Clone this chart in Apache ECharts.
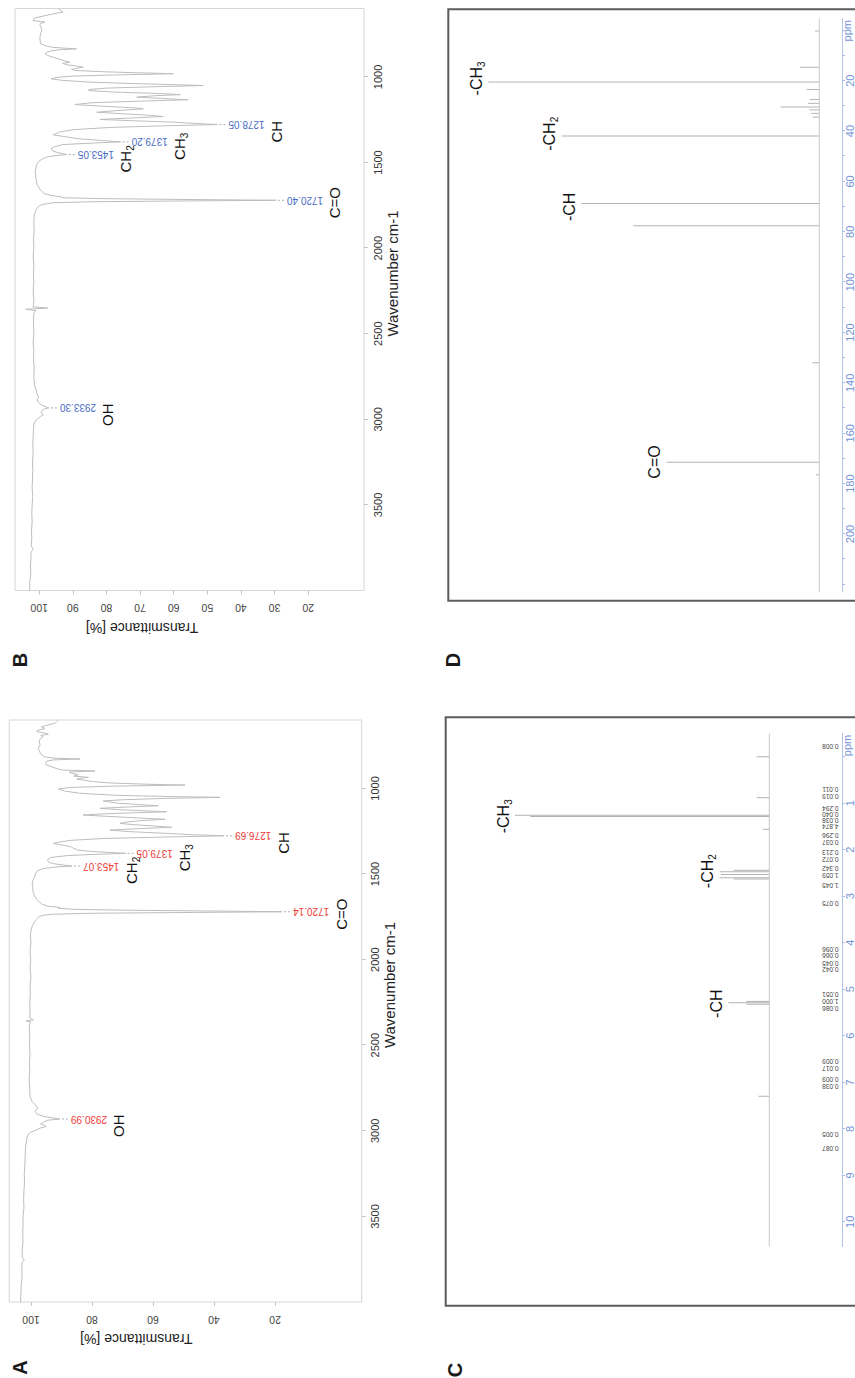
<!DOCTYPE html>
<html><head><meta charset="utf-8">
<script src="https://cdn.jsdelivr.net/npm/echarts@6/dist/echarts.min.js"></script>
<style>
html,body{margin:0;padding:0;background:#fff;overflow:hidden;width:855px;height:1378px;}
#wrap{position:absolute;left:0;top:0;width:1378px;height:855px;transform-origin:0 0;transform:translate(0px,1378px) rotate(-90deg);}
#chart{width:1378px;height:855px;}
</style></head><body>
<div id="wrap"><div id="chart"></div></div>
<script>
// ---------- DATA ----------
const irWavenumberTicks = [1000, 1500, 2000, 2500, 3000, 3500];
const irTransTicksA = [20, 40, 60, 80, 100];
const irTransTicksB = [20, 30, 40, 50, 60, 70, 80, 90, 100];

const irSpectrumA = [[600,91.0],[610,91.6],[619,92.1],[630,94.6],[640,96.5],[650,95.4],[660,97.8],[668,98.1],[676,95.5],[683,94.3],[690,96.8],[697,96.0],[710,97.0],[725,97.3],[745,97.0],[765,97.6],[785,97.2],[804,96.5],[815,95.6],[823,92.5],[828,83.9],[833,92.5],[840,94.8],[852,95.2],[863,94.9],[875,93.0],[884,91.5],[892,89.9],[898,79.0],[904,87.5],[911,86.7],[920,84.5],[928,86.0],[935,81.2],[941,84.0],[946,85.0],[953,82.0],[960,79.5],[968,74.0],[975,62.0],[980,49.5],[986,72.0],[994,87.0],[1003,91.0],[1015,89.0],[1028,84.0],[1040,72.0],[1047,55.0],[1052,38.0],[1058,56.0],[1066,70.0],[1073,76.3],[1085,72.0],[1095,64.0],[1101,58.3],[1108,68.0],[1116,77.4],[1124,71.0],[1131,62.0],[1136,55.5],[1142,66.0],[1149,77.0],[1155,82.9],[1162,76.0],[1172,65.0],[1180,56.1],[1188,64.0],[1197,69.0],[1204,70.8],[1212,66.0],[1220,59.0],[1227,53.9],[1234,64.0],[1243,74.1],[1252,68.0],[1262,56.0],[1270,47.0],[1276.69,36.7],[1283,55.0],[1292,76.0],[1303,87.0],[1314,91.0],[1321,92.7],[1330,90.0],[1340,87.0],[1350,86.0],[1360,84.5],[1368,80.0],[1374,74.0],[1379.05,69.0],[1385,79.0],[1392,88.0],[1403,93.5],[1415,94.5],[1428,94.4],[1438,93.0],[1446,90.0],[1453.07,86.5],[1459,92.0],[1468,96.0],[1480,97.8],[1495,98.5],[1513,98.7],[1530,99.2],[1552,99.6],[1580,99.4],[1603,99.3],[1625,98.9],[1645,98.2],[1660,97.5],[1675,96.5],[1688,94.5],[1695,90.5],[1700,91.0],[1706,86.0],[1711,70.0],[1716,40.0],[1720.14,17.7],[1724,45.0],[1729,80.0],[1735,93.0],[1742,96.5],[1752,97.6],[1766,98.2],[1785,99.0],[1800,99.5],[1821,99.9],[1850,100.2],[1900,100.0],[1950,100.3],[2000,100.1],[2050,100.3],[2100,100.0],[2150,100.3],[2200,100.2],[2250,100.4],[2300,100.3],[2340,100.4],[2352,99.2],[2358,101.6],[2364,100.1],[2380,100.5],[2450,100.4],[2500,100.5],[2550,100.3],[2600,100.5],[2650,100.4],[2700,100.6],[2750,100.4],[2800,100.3],[2830,99.6],[2855,98.2],[2870,97.8],[2885,98.6],[2900,98.2],[2915,96.0],[2924,93.0],[2930.99,90.5],[2938,94.5],[2950,96.0],[2960,96.8],[2968,95.6],[2975,95.0],[2983,96.8],[2995,98.2],[3010,100.3],[3030,101.2],[3060,101.5],[3100,101.8],[3150,101.9],[3200,102.0],[3250,102.2],[3300,102.1],[3350,102.3],[3400,102.4],[3450,102.3],[3500,102.6],[3550,102.6],[3600,102.7],[3650,102.6],[3700,102.9],[3740,102.8],[3755,102.2],[3770,102.9],[3800,103.0],[3850,102.9],[3900,103.2],[3950,103.3],[4000,103.4]];

const irSpectrumB = [[600,94.3],[612,93.5],[621,92.9],[632,96.0],[645,99.0],[656,101.5],[670,101.8],[676,99.5],[680,98.3],[686,99.6],[695,99.8],[710,99.4],[729,99.3],[750,99.6],[768,99.8],[790,99.7],[806,99.6],[818,98.0],[826,96.3],[831,93.0],[836,88.9],[841,94.0],[848,96.5],[856,97.8],[865,98.3],[878,97.0],[888,95.3],[896,94.0],[905,92.5],[914,90.9],[920,93.0],[928,92.0],[936,89.0],[943,86.9],[950,89.0],[956,90.4],[962,89.5],[970,80.0],[976,70.0],[981,60.1],[987,75.0],[995,90.0],[1003,95.0],[1011,96.5],[1020,93.0],[1030,85.0],[1040,70.0],[1046,58.0],[1050,51.2],[1056,64.0],[1065,80.0],[1073,85.0],[1079,85.4],[1088,78.0],[1097,64.0],[1103,58.0],[1110,66.0],[1118,71.0],[1125,64.0],[1133,55.7],[1140,68.0],[1150,84.0],[1161,89.4],[1170,82.0],[1180,72.0],[1186,69.0],[1195,76.0],[1206,82.9],[1215,75.0],[1224,67.0],[1231,63.1],[1240,73.0],[1248,81.9],[1256,72.0],[1264,60.0],[1270,55.1],[1278.05,47.0],[1285,62.0],[1295,79.0],[1308,90.0],[1322,94.0],[1338,95.8],[1350,92.0],[1362,88.0],[1370,82.0],[1379.2,75.8],[1386,84.0],[1395,93.0],[1408,95.5],[1420,96.5],[1432,96.0],[1442,94.5],[1448,93.0],[1453.05,91.8],[1459,95.0],[1468,97.8],[1480,99.2],[1495,100.2],[1514,100.8],[1553,101.2],[1590,101.0],[1630,100.6],[1655,99.8],[1670,99.2],[1681,98.5],[1692,96.5],[1700,93.5],[1706,92.9],[1711,80.0],[1716,55.0],[1720.40,29.6],[1724,55.0],[1729,85.0],[1735,96.0],[1745,99.2],[1760,100.4],[1771,100.8],[1790,101.2],[1809,101.5],[1850,101.6],[1900,101.5],[1950,101.7],[2000,101.6],[2050,101.8],[2100,101.6],[2150,101.7],[2200,101.6],[2250,101.8],[2300,101.6],[2335,101.7],[2343,101.9],[2350,97.5],[2357,104.0],[2365,101.0],[2380,101.6],[2450,101.7],[2500,101.6],[2550,101.8],[2600,101.6],[2650,101.7],[2700,101.5],[2750,101.6],[2800,101.4],[2830,100.9],[2850,100.7],[2870,100.2],[2885,100.6],[2900,100.3],[2915,99.4],[2925,98.3],[2933.30,97.1],[2940,98.6],[2950,99.2],[2960,99.5],[2968,99.0],[2975,98.8],[2983,99.6],[2995,100.3],[3010,101.2],[3030,101.6],[3060,101.7],[3100,101.8],[3150,101.9],[3200,101.8],[3250,102.0],[3300,101.9],[3350,102.0],[3400,102.1],[3450,101.9],[3500,102.1],[3550,102.2],[3600,102.1],[3650,102.3],[3700,102.2],[3740,102.4],[3760,101.7],[3775,102.5],[3800,102.4],[3850,102.6],[3900,102.5],[3950,102.8],[4000,102.8]];

// peak wavenumbers and their assignments
const irPeaksA = [[2930.99, 'OH'], [1720.14, 'C=O'], [1453.07, 'CH2'], [1379.05, 'CH3'], [1276.69, 'CH']];
const irPeaksB = [[2933.30, 'OH'], [1720.40, 'C=O'], [1453.05, 'CH2'], [1379.20, 'CH3'], [1278.05, 'CH']];

// 1H NMR (ppm, relative intensity)
const hnmrRange = [-0.5, 10.53];
const hnmrTicks = [0, 1, 2, 3, 4, 5, 6, 7, 8, 9, 10];
const hnmrTickLabels = [1, 2, 3, 4, 5, 6, 7, 8, 9, 10];
const hnmrPeaks = [[0.00,5.0],[0.88,5.0],[1.26,100],[1.285,94],[1.56,2.5],[2.44,14],[2.47,19.5],[2.53,19],[2.60,19.5],[2.63,14],[5.26,9],[5.29,16.1],[5.32,9],[7.30,4.3]];
const hnmrLabels = [[1.28, '-CH3'], [2.46, '-CH2'], [5.31, '-CH']];
const hnmrIntegrals = [[-0.22,0.008],[0.71,0.011],[0.86,0.019],[1.11,0.294],[1.24,0.040],[1.36,0.038],[1.49,4.874],[1.70,0.296],[1.85,0.037],[2.06,0.213],[2.20,0.072],[2.40,0.342],[2.56,1.059],[2.76,1.045],[3.15,0.075],[4.14,0.096],[4.28,0.066],[4.44,0.045],[4.58,0.042],[5.12,0.051],[5.27,1.000],[5.41,0.086],[6.56,0.009],[6.70,0.017],[6.95,0.009],[7.09,0.038],[8.13,0.005],[8.42,0.087]];

// 13C NMR (ppm, relative intensity)
const cnmrRange = [-4.6, 222.9];
const cnmrTicks = [0,10,20,30,40,50,60,70,80,90,100,110,120,130,140,150,160,170,180,190,200,210,220];
const cnmrTickLabels = [20, 40, 60, 80, 100, 120, 140, 160, 180, 200];
const cnmrPeaks = [[0.3,1.3],[14.7,5.8],[20.5,100],[23.5,3.8],[27.5,2.8],[29.0,3.4],[30.5,11.7],[31.6,3.0],[33.0,2.4],[34.5,2.0],[42.0,77.8],[68.8,71.8],[77.6,56.2],[132.0,2.1],[171.5,46.1],[176.5,1.0]];
const cnmrLabels = [[19.1, '-CH3'], [41.1, '-CH2'], [70.1, '-CH'], [171.4, 'C=O']];

// ---------- LAYOUT / STYLE ----------
const FONT = '"Liberation Sans", Arial, Helvetica, sans-serif';
const GR = {
  A: {left: 76, top: 9.3, width: 582, height: 352.4},
  B: {left: 787.5, top: 15, width: 582, height: 349},
  C: {left: 131.5, top: 460, width: 513, height: 382},
  D: {left: 786.3, top: 470, width: 573, height: 372}
};
const Y_A = [-8.4, 107.1], Y_B = [3.4, 107.2], Y_C = [-28.59, 121.63], Y_D = [-6.86, 105.53];
const RED = '#ee3b36', BLUE = '#4a6cc4', NMRBLUE = '#7393d6';
const plain = function (v) { return String(v); };

function irGrid(g) { return Object.assign({show: true, borderColor: '#d6d6d6', borderWidth: 1, backgroundColor: 'transparent'}, g); }
function irX(i) {
  return {type: 'value', gridIndex: i, min: 600, max: 4000, inverse: true, position: 'bottom',
    axisLine: {show: false, onZero: false}, splitLine: {show: false},
    axisTick: {show: true, customValues: irWavenumberTicks, length: 4, lineStyle: {color: '#c4c4c4'}},
    axisLabel: {customValues: irWavenumberTicks, formatter: plain, fontSize: 11, color: '#333', margin: 8, fontFamily: FONT}};
}
function irY(i, r, ticks) {
  return {type: 'value', gridIndex: i, min: r[0], max: r[1], position: 'left',
    axisLine: {show: false, onZero: false}, splitLine: {show: false},
    axisTick: {show: true, customValues: ticks, length: 4, lineStyle: {color: '#c4c4c4'}},
    axisLabel: {customValues: ticks, formatter: plain, rotate: 90, fontSize: 10.5, color: '#444', margin: 12, fontFamily: FONT}};
}
function nmrX(i, r, ticks, labels) {
  return {type: 'value', gridIndex: i, min: r[0], max: r[1], inverse: true, position: 'bottom',
    axisLine: {show: true, onZero: false, lineStyle: {color: '#a9bde8', type: 'dotted', width: 1}},
    splitLine: {show: false},
    axisTick: {show: true, customValues: ticks, length: 3, lineStyle: {color: '#a9bde8'}},
    axisLabel: {customValues: labels, formatter: plain, fontSize: 11, color: NMRBLUE, margin: 2, fontFamily: FONT}};
}
function nmrY(i, r) { return {type: 'value', gridIndex: i, min: r[0], max: r[1], show: false}; }

const chart = echarts.init(document.getElementById('chart'), null, {renderer: 'svg', width: 1378, height: 855});
chart.setOption({
  animation: false,
  backgroundColor: '#fff',
  textStyle: {fontFamily: FONT},
  grid: [irGrid(GR.A), irGrid(GR.B), Object.assign({show: false}, GR.C), Object.assign({show: false}, GR.D)],
  xAxis: [irX(0), irX(1), nmrX(2, hnmrRange, hnmrTicks, hnmrTickLabels), nmrX(3, cnmrRange, cnmrTicks, cnmrTickLabels)],
  yAxis: [irY(0, Y_A, irTransTicksA), irY(1, Y_B, irTransTicksB), nmrY(2, Y_C), nmrY(3, Y_D)],
  series: [
    {type: 'line', xAxisIndex: 0, yAxisIndex: 0, data: irSpectrumA, showSymbol: false, symbol: 'none', silent: true,
      lineStyle: {color: '#bdbdbd', width: 1}},
    {type: 'line', xAxisIndex: 1, yAxisIndex: 1, data: irSpectrumB, showSymbol: false, symbol: 'none', silent: true,
      lineStyle: {color: '#bdbdbd', width: 1}},
    {type: 'line', xAxisIndex: 2, yAxisIndex: 2, data: [[hnmrRange[0], 0], [hnmrRange[1], 0]], showSymbol: false, symbol: 'none', silent: true,
      lineStyle: {color: '#c8c8c8', width: 1}},
    {type: 'bar', xAxisIndex: 2, yAxisIndex: 2, data: hnmrPeaks, barWidth: 1, silent: true, itemStyle: {color: '#b2b2b2'}},
    {type: 'line', xAxisIndex: 3, yAxisIndex: 3, data: [[cnmrRange[0], 0], [cnmrRange[1], 0]], showSymbol: false, symbol: 'none', silent: true,
      lineStyle: {color: '#c8c8c8', width: 1}},
    {type: 'bar', xAxisIndex: 3, yAxisIndex: 3, data: cnmrPeaks, barWidth: 1, silent: true, itemStyle: {color: '#b4b4b4'}}
  ]
});

// ---------- ANNOTATIONS (positioned through the chart's own scales) ----------
const els = [];
function px(i, pt) { return chart.convertToPixel({gridIndex: i}, pt); }
function sub(t) { return t.replace(/(\d)$/, '{s|$1}'); }
function txt(x, y, text, o) {
  const st = Object.assign({text: text, fontFamily: FONT, fill: '#111', fontSize: 15}, o.style || {});
  st.textAlign = st.align = o.align || 'center';
  st.textVerticalAlign = st.verticalAlign = o.valign || 'middle';
  els.push({type: 'text', x: x, y: y, rotation: o.rotation || 0, silent: true, style: st});
}
const subRich = {s: {fontSize: 10, lineHeight: 10, verticalAlign: 'bottom', fontFamily: FONT, fill: '#111'}};

function irAnnot(i, spec, peaks, color) {
  peaks.forEach(function (p) {
    const tip = spec.find(function (d) { return d[0] === p[0]; })[1];
    const c = px(i, [p[0], tip]);
    els.push({type: 'line', silent: true, shape: {x1: c[0], y1: c[1] + 2, x2: c[0], y2: c[1] + 10},
      style: {stroke: '#b0b0b0', lineWidth: 1, lineDash: [2, 2]}});
    txt(c[0], c[1] + 11, p[0].toFixed(2), {rotation: Math.PI / 2, align: 'right', valign: 'middle', style: {fill: color, fontSize: 10}});
    txt(c[0] - 18, c[1] + 11 + 36 + 2, sub(p[1]), {align: 'left', valign: 'top', style: {fontSize: 15, lineHeight: 20, rich: subRich}});
  });
}
irAnnot(0, irSpectrumA, irPeaksA, RED);
irAnnot(1, irSpectrumB, irPeaksB, BLUE);

function nmrAnnot(i, peaks, labels, win) {
  labels.forEach(function (l) {
    let h = 0;
    peaks.forEach(function (p) { if (Math.abs(p[0] - l[0]) <= win && p[1] > h) h = p[1]; });
    const c = px(i, [l[0], h]);
    txt(c[0], c[1] - 2, sub(l[1]), {align: 'center', valign: 'bottom', style: {fontSize: 16, lineHeight: 20, rich: subRich}});
  });
}
nmrAnnot(2, hnmrPeaks, hnmrLabels, 0.2);
nmrAnnot(3, cnmrPeaks, cnmrLabels, 2.0);

// integrals under the 1H spectrum
const base2 = px(2, [0, 0])[1];
hnmrIntegrals.forEach(function (d) {
  const c = px(2, [d[0], 0]);
  txt(c[0], base2 + 61, d[1].toFixed(3), {rotation: Math.PI / 2, align: 'center', valign: 'middle', style: {fontSize: 6.5, fill: '#444'}});
});

// axis names
['A', 'B'].forEach(function (k) {
  const g = GR[k];
  txt(g.left + g.width / 2 + 26, g.top + g.height + 28, 'Wavenumber cm-1', {style: {fontSize: 15, fill: '#222'}});
  txt(g.left - 37, g.top + 127, 'Transmittance [%]', {rotation: Math.PI / 2, style: {fontSize: 14, fill: '#222'}});
});
[[2, hnmrRange], [3, cnmrRange]].forEach(function (a) {
  const c = px(a[0], [a[1][0], 0]);
  txt(c[0] - 12, 847, 'ppm', {style: {fontSize: 11, fill: NMRBLUE}});
});

// NMR frames
els.push({type: 'rect', silent: true, shape: {x: 72.3, y: 445.7, width: 588.4, height: 500}, style: {fill: 'none', stroke: '#5c5c5c', lineWidth: 2}});
els.push({type: 'rect', silent: true, shape: {x: 777.3, y: 448.3, width: 591.5, height: 500}, style: {fill: 'none', stroke: '#5c5c5c', lineWidth: 2}});

// panel letters
[['A', 10.5, 20], ['B', 718, 19.5], ['C', 8, 455], ['D', 718, 453]].forEach(function (p) {
  txt(p[1], p[2], p[0], {style: {fontSize: 20, fontWeight: 'bold', fill: '#1a1a1a'}});
});

chart.setOption({graphic: {elements: els}});
</script>
</body></html>
